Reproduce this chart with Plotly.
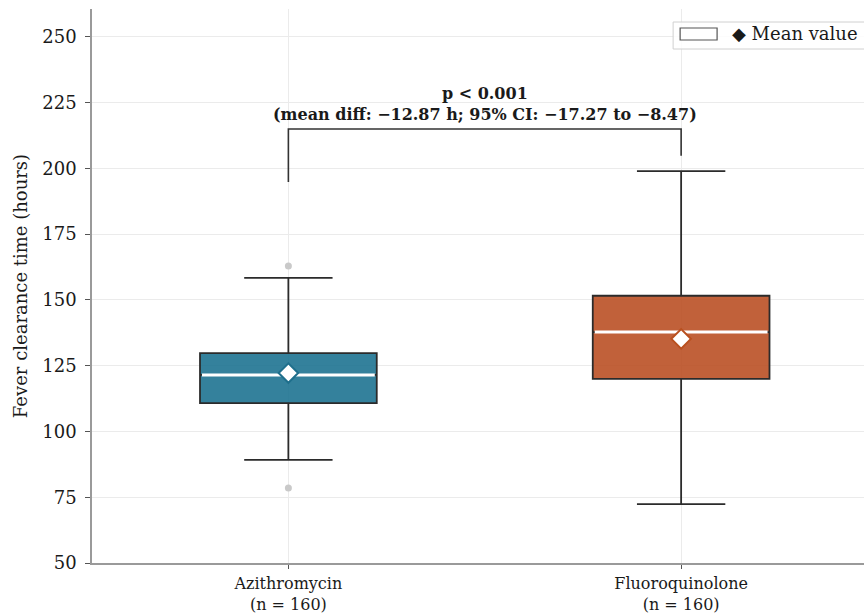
import plotly.graph_objects as go

# ---- data ----
categories = ["Azithromycin", "Fluoroquinolone"]
n_counts = [160, 160]
q1 = [110.8, 120.0]
median = [121.5, 137.8]
q3 = [129.8, 151.6]
whisker_low = [89.2, 72.4]
whisker_high = [158.4, 199.0]
means = [122.2, 135.2]
outliers = [[162.9, 78.5], []]
colors = ["rgba(30,115,145,0.9)", "rgba(186,80,37,0.9)"]
edge_colors = ["#1f6f8c", "#b9501f"]

bracket_top = 215.0
bracket_starts = [194.8, 204.8]
p_text = "p < 0.001"
diff_text = "(mean diff: \u221212.87 h; 95% CI: \u221217.27 to \u22128.47)"

yticks = [50, 75, 100, 125, 150, 175, 200, 225, 250]

FONT = "DejaVu Serif"
TXT = "#1a1a1a"
box_w = 0.45
xpos = list(range(len(categories)))

W, H = 864, 613
L, R, T, B = 91.5, 0, 9, 50
PW, PH = W - L - R, H - T - B


def px_x(px):
    return (px - L) / PW


def px_y(py):
    return (H - B - py) / PH


fig = go.Figure()

for i, cat in enumerate(categories):
    fig.add_trace(go.Box(
        x=[xpos[i]], q1=[q1[i]], median=[median[i]], q3=[q3[i]],
        lowerfence=[whisker_low[i]], upperfence=[whisker_high[i]],
        width=box_w, whiskerwidth=0.5, boxpoints=False,
        fillcolor=colors[i], line=dict(color="#2b2b2b", width=1.8),
        showlegend=False, hoverinfo="skip",
    ))
    fig.add_trace(go.Scatter(
        x=[xpos[i] - box_w / 2 + 0.005, xpos[i] + box_w / 2 - 0.005],
        y=[median[i], median[i]], mode="lines",
        line=dict(color="white", width=3), showlegend=False, hoverinfo="skip",
    ))
    if outliers[i]:
        fig.add_trace(go.Scatter(
            x=[xpos[i]] * len(outliers[i]), y=outliers[i], mode="markers",
            marker=dict(color="#c9c9c9", size=7), showlegend=False, hoverinfo="skip",
        ))
    fig.add_trace(go.Scatter(
        x=[xpos[i]], y=[means[i]], mode="markers",
        marker=dict(symbol="diamond", size=15, color="white",
                    line=dict(color=edge_colors[i], width=2)),
        showlegend=False, hoverinfo="skip",
    ))

# significance bracket
fig.add_trace(go.Scatter(
    x=[xpos[0], xpos[0], xpos[1], xpos[1]],
    y=[bracket_starts[0], bracket_top, bracket_top, bracket_starts[1]],
    mode="lines", line=dict(color="#333333", width=1.6),
    showlegend=False, hoverinfo="skip",
))
fig.add_annotation(
    x=(xpos[0] + xpos[1]) / 2, y=bracket_top + 1.2, xref="x", yref="y",
    text="<b>" + p_text + "</b><br><b>" + diff_text + "</b>",
    showarrow=False, yanchor="bottom", align="center",
    font=dict(family=FONT, size=16, color=TXT),
)

# legend (manual)
fig.add_shape(type="rect", xref="paper", yref="paper",
              x0=px_x(673), x1=px_x(880), y0=px_y(49), y1=px_y(22),
              line=dict(color="#d0d0d0", width=1), fillcolor="rgba(255,255,255,0.85)")
fig.add_shape(type="rect", xref="paper", yref="paper",
              x0=px_x(680), x1=px_x(717), y0=px_y(40), y1=px_y(28),
              line=dict(color="#555555", width=1.2), fillcolor="white")
fig.add_annotation(x=px_x(730), y=px_y(34), xref="paper", yref="paper",
                   text="\u25c6 Mean value", showarrow=False, xanchor="left", yanchor="middle",
                   font=dict(family=FONT, size=18, color=TXT))

ticktext = [f"{c}<br>(n = {n})" for c, n in zip(categories, n_counts)]

fig.update_layout(
    width=W, height=H,
    margin=dict(l=L, r=R, t=T, b=B, autoexpand=False),
    plot_bgcolor="white", paper_bgcolor="white",
    font=dict(family=FONT, size=18, color=TXT),
    boxmode="overlay",
)
fig.update_xaxes(
    range=[-0.5, 1.4656], tickvals=xpos, ticktext=ticktext,
    showgrid=True, gridcolor="#ebebeb", gridwidth=1,
    showline=True, linecolor="#9a9a9a", linewidth=1.5,
    ticks="outside", ticklen=4, tickcolor="#555555", zeroline=False,
    tickfont=dict(family=FONT, size=16, color=TXT), ticklabelstandoff=1,
)
fig.update_yaxes(
    range=[50, 260.6], tickvals=yticks,
    showgrid=True, gridcolor="#ebebeb", gridwidth=1,
    showline=True, linecolor="#9a9a9a", linewidth=1.5,
    ticks="outside", ticklen=5, tickcolor="#555555", zeroline=False,
    tickfont=dict(family=FONT, size=18, color=TXT), ticklabelstandoff=5,
    title=dict(text="Fever clearance time (hours)", font=dict(family=FONT, size=18, color=TXT), standoff=10),
)

fig.write_html("out.html", config={"displayModeBar": False},
               post_script="document.body.style.margin='0';document.body.style.overflow='hidden';")
